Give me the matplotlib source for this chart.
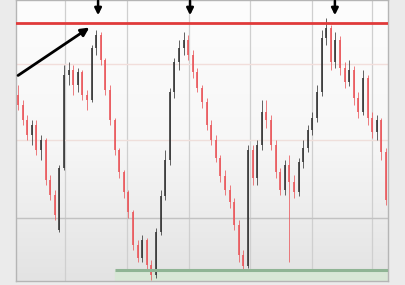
import numpy as np
import matplotlib.pyplot as plt
from matplotlib.patches import Rectangle
from matplotlib.colors import LinearSegmentedColormap

# --- OHLC data ---
opens = [205, 195, 180, 165, 175, 150, 160, 120, 105, 70, 132, 225, 230, 215, 228, 205, 200, 252, 265, 240,
         210, 180, 150, 128, 108, 88, 55, 42, 60, 35, 25, 68, 104, 140, 208, 238, 252, 260, 245, 228,
         212, 198, 175, 160, 142, 124, 110, 98, 75, 45, 34, 150, 122, 155, 188, 180, 155, 128, 110, 135,
         118, 108, 138, 152, 170, 182, 208, 262, 272, 238, 260, 232, 218, 230, 202, 188, 222, 182, 168, 180,
         148]
closes = [195, 180, 165, 175, 150, 160, 120, 105, 85, 132, 225, 230, 215, 228, 205, 200, 252, 265, 240, 210,
          180, 150, 128, 108, 88, 55, 42, 60, 35, 25, 68, 104, 140, 208, 238, 252, 260, 245, 228, 212,
          198, 175, 160, 142, 124, 110, 98, 75, 45, 34, 150, 122, 155, 188, 180, 155, 128, 110, 135, 118,
          108, 138, 152, 170, 182, 208, 262, 272, 238, 260, 232, 218, 230, 202, 188, 222, 182, 168, 180, 148,
          100]
highs = [215, 200, 185, 180, 180, 165, 162, 125, 110, 135, 235, 238, 235, 232, 230, 210, 255, 270, 268, 242,
         215, 182, 152, 130, 110, 90, 60, 65, 62, 40, 72, 110, 150, 212, 242, 260, 268, 265, 250, 232,
         215, 202, 180, 165, 145, 130, 115, 102, 80, 50, 155, 155, 160, 200, 200, 185, 160, 132, 140, 145,
         125, 142, 160, 175, 188, 215, 270, 282, 275, 268, 264, 238, 240, 234, 208, 230, 225, 188, 185, 182,
         152]
lows = [190, 175, 160, 155, 145, 140, 115, 100, 80, 68, 130, 215, 205, 208, 200, 190, 198, 245, 235, 205,
        175, 145, 122, 102, 82, 50, 38, 38, 30, 20, 22, 65, 100, 135, 202, 230, 245, 240, 222, 208,
        192, 170, 155, 138, 118, 105, 92, 70, 38, 30, 32, 115, 115, 150, 172, 150, 122, 105, 105, 38,
        102, 104, 132, 148, 165, 178, 204, 255, 230, 232, 225, 212, 214, 195, 182, 185, 175, 162, 160, 140,
        95]

resistance = 277
support = 30
peaks = [17.4, 37.4, 68.9]

RED = '#ea5a5e'
BLACK = '#3a3a3a'

fig = plt.figure(figsize=(4.06, 2.85), dpi=100)
fig.patch.set_facecolor('#ebebeb')
ax = fig.add_axes([16 / 406, 4 / 285, 372 / 406, 281 / 285])
ax.set_xlim(-0.45, 80.45)
ax.set_ylim(19, 300)

# background gradient of the plot area
bg = LinearSegmentedColormap.from_list('bg', ['#fdfdfd', '#f7f7f7', '#e3e3e3'])
grad = np.linspace(0, 1, 256).reshape(-1, 1)
ax.imshow(grad, extent=[-0.45, 80.45, 19, 300], aspect='auto', cmap=bg,
          origin='upper', zorder=0)

for gx in [10.2, 23.7, 37.2, 50.4, 63.9, 76.9]:
    ax.axvline(gx, color='#cfcfcf', lw=0.9, zorder=1)
ax.axhline(236, color='#f2dedb', lw=1, zorder=1)
ax.axhline(160, color='#efdfdb', lw=1, zorder=1)
ax.axhline(82, color='#c2c2c2', lw=1, zorder=1)

x = np.arange(len(closes))
for i in x:
    o, c, h, l = opens[i], closes[i], highs[i], lows[i]
    col = BLACK if c > o else RED
    ax.vlines(i, l, h, color=col, lw=0.7, alpha=0.8, zorder=3)
    ax.add_patch(Rectangle((i - 0.22, min(o, c)), 0.44, max(abs(c - o), 1),
                           facecolor=col, edgecolor='none', alpha=0.85, zorder=4))

ax.axhline(resistance, color='#e03a3a', lw=2, zorder=5)
ax.axhspan(19, support, xmin=0.265, color='#d8e7d6', zorder=1)
ax.hlines(support, 21, 80.45, color='#8fb494', lw=2.2, zorder=5)

for px in peaks:
    ax.annotate('', xy=(px, 282), xytext=(px, 302),
                arrowprops=dict(arrowstyle='-|>', color='black', lw=1.8,
                                mutation_scale=10), zorder=6, annotation_clip=False)

ax.annotate('', xy=(16.0, 274), xytext=(-0.5, 223),
            arrowprops=dict(arrowstyle='-|>', color='black', lw=2,
                            mutation_scale=12), zorder=6)

ax.set_xticks([])
ax.set_yticks([])
for s in ax.spines.values():
    s.set_color('#b5b5b5')
    s.set_linewidth(1)

fig.savefig('out.png', dpi=100, facecolor=fig.get_facecolor())
